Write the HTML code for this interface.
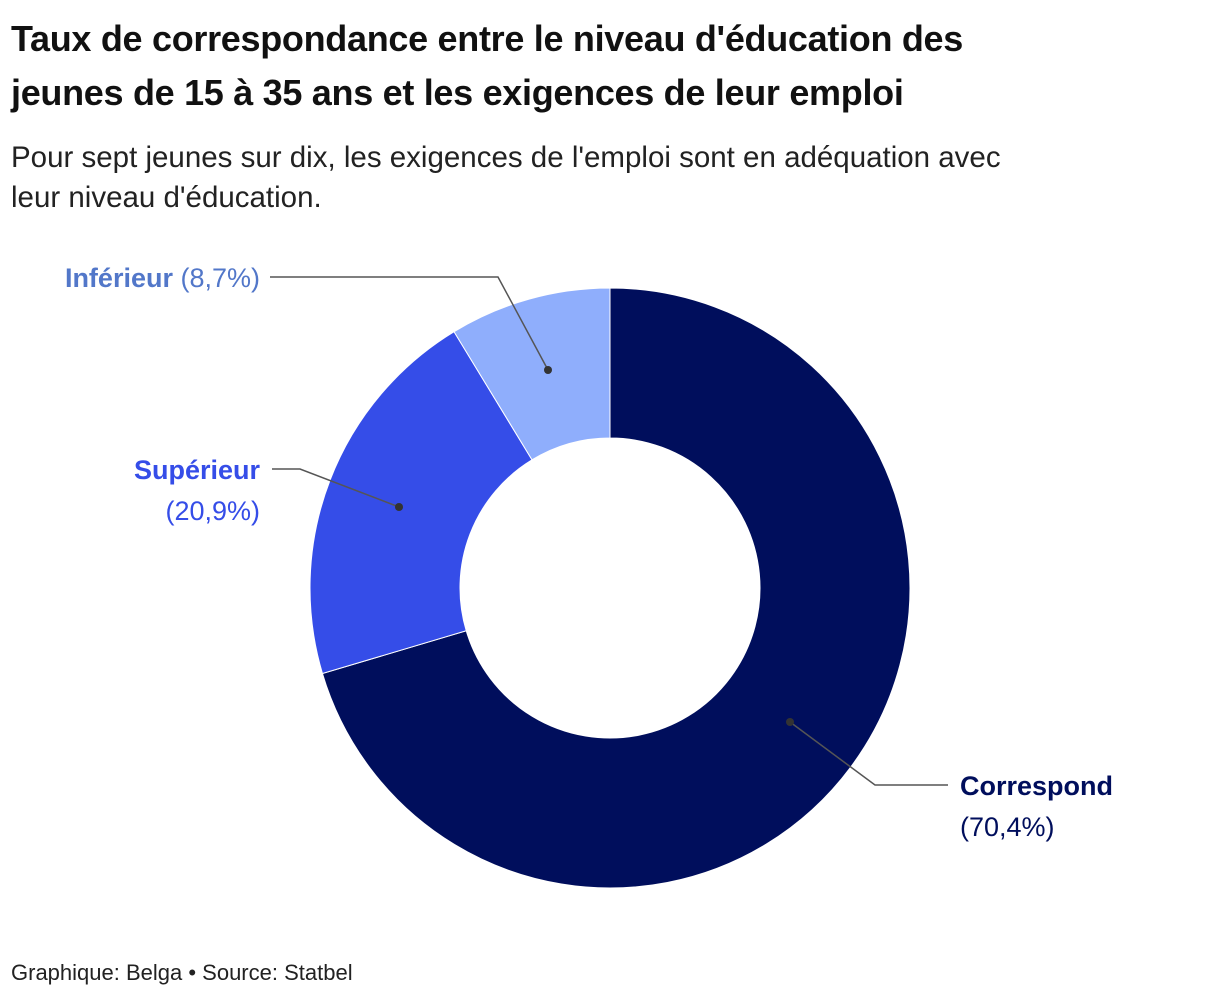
<!DOCTYPE html>
<html><head><meta charset="utf-8"><style>
body{margin:0;width:1220px;height:1002px;background:#fff;font-family:"Liberation Sans",sans-serif;position:relative;overflow:hidden}
#title{position:absolute;left:11px;top:12px;font-size:36px;font-weight:bold;line-height:54px;color:#111;letter-spacing:-0.3px}
#sub{position:absolute;left:11px;top:138px;font-size:29.5px;line-height:40px;color:#222}
#foot{position:absolute;left:11px;top:960px;font-size:22px;color:#222}
svg{position:absolute;left:0;top:0}
</style></head><body>
<div id="title">Taux de correspondance entre le niveau d'éducation des<br>jeunes de 15 à 35 ans et les exigences de leur emploi</div>
<div id="sub">Pour sept jeunes sur dix, les exigences de l'emploi sont en adéquation avec<br>leur niveau d'éducation.</div>
<svg id="chart" width="1220" height="1002"></svg>
<div id="foot">Graphique: Belga • Source: Statbel</div>
<script>
const categories=["Correspond","Supérieur","Inférieur"];
const values=[70.4,20.9,8.7];
const valueLabels=["(70,4%)","(20,9%)","(8,7%)"];
const colors=["#000e5c","#354de8","#8faefc"];
const textColors=["#000e5c","#354de8","#5277c9"];
const NS="http://www.w3.org/2000/svg";
const svg=document.getElementById('chart');
const cx=610,cy=588,R=300,r=150;
const total=values.reduce((a,b)=>a+b,0);
function pt(a,rad){return[cx+rad*Math.sin(a),cy-rad*Math.cos(a)];}
let acc=0;
values.forEach((v,i)=>{
 const a0=acc/total*2*Math.PI;acc+=v;const a1=acc/total*2*Math.PI;
 const large=(a1-a0)>Math.PI?1:0;
 const p1=pt(a0,R),p2=pt(a1,R),p3=pt(a1,r),p4=pt(a0,r);
 const p=document.createElementNS(NS,'path');
 p.setAttribute('d',`M${p1}A${R},${R} 0 ${large} 1 ${p2}L${p3}A${r},${r} 0 ${large} 0 ${p4}Z`);
 p.setAttribute('fill',colors[i]);p.setAttribute('stroke','#fff');p.setAttribute('stroke-width','1');
 
 
 svg.appendChild(p);
});
// leader lines & labels
const leaders=[
 {dot:[790,722],mid:[875,785],end:[948,785],tx:960,ty:795,anchor:"start",two:true},
 {dot:[399,507],mid:[300,469],end:[272,469],tx:260,ty:479,anchor:"end",two:true},
 {dot:[548,370],mid:[498,277],end:[270,277],tx:260,ty:287,anchor:"end",two:false}
];
leaders.forEach((L,i)=>{
 const pl=document.createElementNS(NS,'polyline');
 pl.setAttribute('points',`${L.dot} ${L.mid} ${L.end}`);
 pl.setAttribute('fill','none');pl.setAttribute('stroke','#555');pl.setAttribute('stroke-width','1.5');
 
 
 svg.appendChild(pl);
 const c=document.createElementNS(NS,'circle');
 c.setAttribute('cx',L.dot[0]);c.setAttribute('cy',L.dot[1]);c.setAttribute('r',4);c.setAttribute('fill','#333');
 
 
 svg.appendChild(c);
 const t=document.createElementNS(NS,'text');
 t.setAttribute('x',L.tx);t.setAttribute('y',L.ty);t.setAttribute('text-anchor',L.anchor);
 t.setAttribute('font-size','27');t.setAttribute('fill',textColors[i]);
 
 
 const b=document.createElementNS(NS,'tspan');b.setAttribute('font-weight','bold');b.textContent=categories[i];t.appendChild(b);
 const s=document.createElementNS(NS,'tspan');
 if(L.two){s.setAttribute('x',L.tx);s.setAttribute('dy','41');s.textContent=valueLabels[i];}
 else{s.textContent=' '+valueLabels[i];}
 t.appendChild(s);
 svg.appendChild(t);
});
</script>
</body></html>
